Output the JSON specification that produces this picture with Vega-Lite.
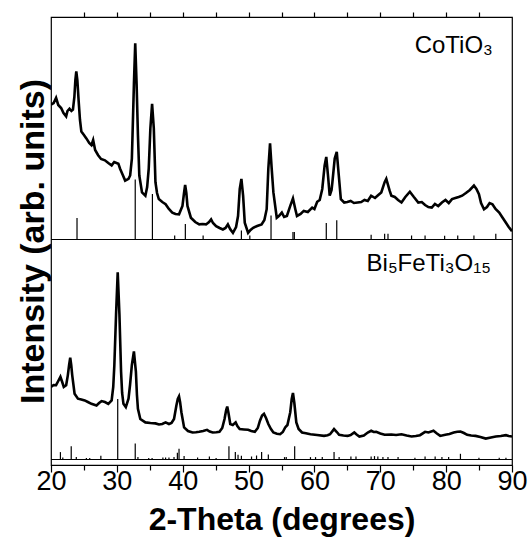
{
  "$schema": "https://vega.github.io/schema/vega-lite/v6.json",
  "width": 461,
  "height": 448,
  "autosize": "none",
  "padding": {"left": 51, "right": 19, "top": 17, "bottom": 78},
  "background": "white",
  "config": {
    "view": {"stroke": "black", "strokeWidth": 1.2},
    "font": "Liberation Sans",
    "axis": {"labelFont": "Liberation Sans", "titleFont": "Liberation Sans", "tickColor": "black", "labelColor": "black", "titleColor": "black", "grid": false}
  },
  "datasets": {
    "top": [
      [20.00,360.4],[20.4,362],[20.77,367.1],[21.1,360],[21.54,357],[21.9,352],[22.30,348.6],[22.5,354],[22.81,356.3],[23.1,354],[23.33,355.3],[23.55,368],[23.7,385],[23.84,393.5],[24.0,385],[24.20,363.8],[24.4,345],[24.61,333.4],[25.0,330],[25.37,326.6],[25.8,322],[26.14,319.9],[26.40,325],[26.7,315],[27.16,309.8],[27.6,306],[28.19,304.7],[28.7,302],[29.21,299.6],[29.6,303],[30.23,301.3],[30.49,296.3],[30.9,290],[31.26,284.4],[31.77,286.1],[32.02,289.5],[32.28,306.4],[32.38,330],[32.59,380.6],[32.79,421.8],[33.00,380.6],[33.20,330],[33.41,289.5],[33.82,272.6],[34.33,269.3],[34.6,278],[34.84,296.3],[35.09,336.8],[35.35,361.1],[35.61,336.8],[35.86,282.8],[36.1,272],[36.37,265.9],[36.9,263],[37.40,260.8],[37.9,256],[38.42,252.4],[38.9,251],[39.44,250.7],[39.96,259.1],[40.2,272],[40.37,280.1],[40.55,272],[40.72,259.1],[41.24,247.3],[41.9,243],[42.51,240.6],[43.0,241],[43.54,240.6],[44.0,243],[44.31,245.6],[44.6,242],[45.07,238.9],[45.6,237],[46.10,235.5],[46.5,237],[46.86,240.6],[47.2,236],[47.63,232.1],[48.1,238],[48.40,249],[48.66,276],[48.91,286.1],[49.17,269.3],[49.42,242.3],[49.93,232.1],[50.3,235],[50.70,237.2],[51.3,239],[51.98,240.6],[52.4,245],[52.75,255.8],[53.00,296.3],[53.26,321.6],[53.51,296.3],[53.77,272.6],[54.28,247.3],[54.6,249],[55.05,252.4],[55.4,248],[55.82,249],[56.33,259.1],[56.74,266.6],[57.10,255.8],[57.35,249],[57.9,251],[58.38,254.1],[59.0,253],[59.66,257.4],[60.0,256],[60.42,263.2],[60.8,265],[61.19,276],[61.55,299.6],[61.80,308.1],[62.06,289.5],[62.32,269.3],[62.6,275],[62.73,282.8],[63.08,306.4],[63.39,313.1],[63.70,289.5],[64.01,265.9],[64.52,262.5],[65.0,263],[65.5,264],[66.0,262],[66.56,262.5],[67.1,263],[67.6,265],[68.1,264],[68.61,269.3],[69.2,267],[69.7,270],[70.15,272.6],[70.66,282.8],[70.91,286.1],[71.42,274.3],[71.68,269.3],[72.2,268],[72.7,265],[73.22,262.5],[73.8,268],[74.49,273.3],[75.1,268],[75.77,262.5],[76.3,263],[76.8,260],[77.3,258],[77.82,257.4],[78.3,261],[78.8,259],[79.36,262.5],[79.9,265],[80.4,262],[80.89,265.9],[81.4,267],[81.9,268],[82.43,269.3],[83.0,272],[83.6,275],[84.22,279.4],[84.6,276],[84.98,270.9],[85.3,262],[85.75,255.8],[86.2,258],[86.6,262],[87.03,260.8],[87.5,256],[88.06,252.4],[88.5,248],[89.08,242.3],[89.5,238],[90.0,233.8]
    ],
    "bottom": [
      [20.00,78.1],[20.4,80],[20.77,79.8],[21.1,84],[21.43,88.2],[21.7,83],[21.94,78.1],[22.30,79.8],[22.56,89.9],[22.75,100],[22.92,107.4],[23.07,100],[23.22,89.9],[23.58,71.3],[24.09,66.3],[24.6,65.5],[25.12,64.6],[25.6,63],[26.14,61.2],[26.91,59.5],[27.3,62],[27.68,63.9],[28.19,63],[28.70,61.2],[29.21,64.6],[29.45,78],[29.62,100],[29.88,150.6],[30.13,192.8],[30.39,150.6],[30.64,93.3],[30.8,72],[31.00,61.2],[31.36,57.8],[31.77,66.3],[32.0,80],[32.28,100],[32.59,113.5],[32.89,93.3],[33.05,70],[33.20,56.1],[33.56,46],[34.33,42.6],[35.1,42],[35.86,41.6],[36.4,40.5],[36.89,41],[37.40,42.6],[37.91,41],[38.3,42],[38.68,46],[39.04,59.5],[39.25,66],[39.44,68.6],[39.6,63],[39.80,52.8],[40.21,37.6],[40.8,34],[41.49,32.5],[42.0,32.8],[42.51,33.2],[43.1,34],[43.69,35.2],[44.1,33.5],[44.56,32.5],[45.1,32.8],[45.58,33.2],[46.0,37],[46.35,46],[46.6,55],[46.76,58.5],[46.95,52],[47.22,41],[47.6,40],[48.04,42.6],[48.3,39],[48.65,35.9],[49.3,35.5],[49.93,35.2],[50.4,34],[50.95,33.2],[51.4,37],[51.73,44.3],[52.05,49.5],[52.34,51.1],[52.65,47],[53.00,41],[53.4,36],[53.77,32.5],[54.3,31.2],[54.79,30.8],[55.2,33],[55.56,37.6],[55.9,40],[56.33,52.8],[56.55,66],[56.74,72],[56.95,62],[57.25,42.6],[57.6,36],[58.12,32.5],[58.7,31.8],[59.40,30.8],[60.4,30],[61.45,29.1],[62.0,29.8],[62.37,30.8],[62.98,35.9],[63.4,33],[63.75,30.2],[64.4,29.5],[65.03,29.1],[65.5,30],[66.05,32.5],[66.4,30.5],[66.82,28.5],[67.5,29.5],[68.10,32.5],[68.61,34.2],[69.0,33],[69.38,33.2],[70.0,31.5],[70.66,30.2],[71.68,30.5],[72.4,30],[73.22,30.8],[74.0,29.5],[74.75,28.5],[75.4,29],[76.03,29.8],[76.80,33.2],[77.31,32.5],[78.08,34.2],[78.6,31.5],[79.10,29.1],[79.87,30.2],[80.5,31],[81.15,32.5],[81.7,33.3],[82.17,33.5],[82.7,32],[83.19,30.2],[83.8,29.5],[84.47,29.1],[85.2,28],[86.01,26.4],[86.8,27.5],[87.54,28.5],[88.3,29],[89.08,29.8],[89.5,29],[90.00,28.5]
    ],
    "topSticks": [
      [23.95,247.1],[32.79,285.5],[35.40,271],[38.78,229.5],[40.40,241],[43.10,229.5],[48.91,234.5],[50.19,229.5],[53.41,249.5],[56.74,232.9],[56.95,232.9],[61.80,242],[63.39,244.7],[68.61,230.2],[70.66,231.2],[71.17,231.2],[74.75,229.5],[76.80,229.5],[79.77,229.2],[81.76,229.5],[84.22,229.5],[87.54,231.2]
    ],
    "bottomSticks": [
      [21.43,12.9],[21.79,7.5],[23.07,18.7],[23.84,7.9],[25.37,6.9],[25.88,6.9],[27.57,9.2],[30.13,65.9],[32.79,21.4],[33.20,7.9],[34.84,7],[35.35,7],[36.99,7.5],[37.40,7.5],[37.91,7.5],[38.68,8],[39.19,12.2],[39.44,16.3],[40.21,8.9],[42.26,7.5],[44.05,8.5],[45.07,7],[47.02,18.7],[47.99,12.9],[48.40,10.2],[48.91,9.2],[50.45,8.5],[51.21,9.5],[51.98,12.9],[53.00,10.5],[55.46,7.9],[55.72,7.9],[57.00,18.7],[59.40,7.9],[60.17,7.9],[61.19,7.9],[62.98,12.9],[63.75,7.9],[65.54,8.5],[66.31,8.5],[68.61,8.5],[69.12,8.9],[69.63,8.5],[70.40,7.9],[71.17,7.9],[72.70,7.9],[75.26,7.2],[76.80,8.5],[78.33,8.5],[79.36,7.9],[80.38,7.9],[82.17,11.2],[84.98,7.2],[88.06,7.2],[89.08,7.2]
    ],
    "labels": [
      {"name": "CoTiO₃", "theta": 87.1, "intensity": 411.7},
      {"name": "Bi₅FeTi₃O₁₅", "theta": 86.8, "intensity": 193.8}
    ]
  },
  "resolve": {"axis": {"x": "independent", "y": "independent"}},
  "layer": [
    {
      "data": {"name": "top"},
      "transform": [{"calculate": "datum[0]", "as": "theta"}, {"calculate": "datum[1]", "as": "intensity"}],
      "mark": {"type": "line", "color": "black", "strokeWidth": 2.6, "clip": true},
      "encoding": {
        "x": {"field": "theta", "type": "quantitative", "scale": {"domain": [20, 90], "nice": false, "zero": false},
          "axis": {"orient": "bottom", "values": [20,30,40,50,60,70,80,90], "format": "d", "tickSize": 7, "tickWidth": 1.2, "domain": false,
            "labelFontSize": 27, "labelPadding": -4, "labelFlush": false, "labelOverlap": false,
            "title": "2-Theta (degrees)", "titleFontSize": 32, "titleFontWeight": "bold", "titlePadding": 10}},
        "y": {"field": "intensity", "type": "quantitative", "scale": {"domain": [0, 448], "nice": false, "zero": false},
          "axis": {"title": "Intensity (arb. units)", "ticks": false, "labels": false, "domain": false, "titleFontSize": 34, "titleFontWeight": "bold", "titlePadding": 1}}
      }
    },
    {
      "data": {"name": "bottom"},
      "transform": [{"calculate": "datum[0]", "as": "theta"}, {"calculate": "datum[1]", "as": "intensity"}],
      "mark": {"type": "line", "color": "black", "strokeWidth": 2.6, "clip": true},
      "encoding": {
        "x": {"field": "theta", "type": "quantitative",
          "axis": {"orient": "bottom", "values": [25,35,45,55,65,75,85], "tickSize": 5, "tickWidth": 1.2, "labels": false, "domain": false, "title": null}},
        "y": {"field": "intensity", "type": "quantitative", "axis": null}
      }
    },
    {
      "data": {"name": "topSticks"},
      "transform": [{"calculate": "datum[0]", "as": "theta"}, {"calculate": "datum[1]", "as": "intensity"}],
      "mark": {"type": "rule", "color": "black", "strokeWidth": 1.2},
      "encoding": {
        "x": {"field": "theta", "type": "quantitative",
          "axis": {"orient": "top", "values": [25,30,35,40,45,50,55,60,65,70,75,80,85], "tickSize": 5, "tickWidth": 1.2, "labels": false, "domain": false, "title": null}},
        "y": {"field": "intensity", "type": "quantitative", "axis": null},
        "y2": {"datum": 225.5}
      }
    },
    {
      "data": {"name": "bottomSticks"},
      "transform": [{"calculate": "datum[0]", "as": "theta"}, {"calculate": "datum[1]", "as": "intensity"}],
      "mark": {"type": "rule", "color": "black", "strokeWidth": 1.2},
      "encoding": {
        "x": {"field": "theta", "type": "quantitative", "axis": null},
        "y": {"field": "intensity", "type": "quantitative", "axis": null},
        "y2": {"datum": 5.5}
      }
    },
    {
      "data": {"values": [{}]},
      "mark": {"type": "rule", "color": "black", "strokeWidth": 1.2},
      "encoding": {"y": {"datum": 225.5, "type": "quantitative", "axis": null}}
    },
    {
      "data": {"values": [{}]},
      "mark": {"type": "rule", "color": "black", "strokeWidth": 1.2},
      "encoding": {"y": {"datum": 5.5, "type": "quantitative", "axis": null}}
    },
    {
      "data": {"name": "labels"},
      "mark": {"type": "text", "align": "right", "baseline": "alphabetic", "fontSize": 24, "font": "Liberation Sans", "color": "black"},
      "encoding": {
        "x": {"field": "theta", "type": "quantitative", "axis": null},
        "y": {"field": "intensity", "type": "quantitative", "axis": null},
        "text": {"field": "name"}
      }
    }
  ]
}
